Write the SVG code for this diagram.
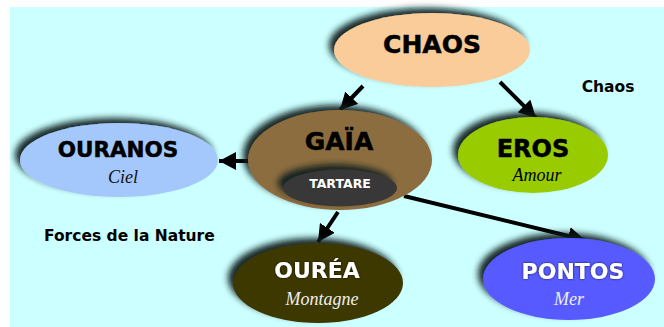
<svg xmlns="http://www.w3.org/2000/svg" width="664" height="327" viewBox="0 0 664 327">
<defs>
<filter id="sh" x="-20%" y="-30%" width="140%" height="160%">
<feDropShadow dx="-5" dy="-5" stdDeviation="3" flood-color="#0f1f1f" flood-opacity="0.95"/>
</filter>
<filter id="tsh" x="-10%" y="-30%" width="120%" height="160%">
<feDropShadow dx="0" dy="0" stdDeviation="0.8" flood-color="#000" flood-opacity="0.8"/>
</filter>
<marker id="ah" markerUnits="userSpaceOnUse" markerWidth="18" markerHeight="18" refX="17" refY="9" orient="auto">
<path d="M0,0 L17,9 L0,18 z" fill="#000"/>
</marker>
</defs>
<style>
.t{font-family:"DejaVu Sans",Verdana,sans-serif;font-weight:bold;text-anchor:middle}
.k{stroke:#000;stroke-width:0.5}
.s{font-family:"Liberation Serif","DejaVu Serif",serif;font-style:italic;text-anchor:middle;font-size:18px}
.l{font-family:"DejaVu Sans",Verdana,sans-serif;font-weight:bold;font-size:15.5px;fill:#000}
.c{fill:none;stroke:#000;stroke-width:4;marker-end:url(#ah)}
</style>
<rect x="10" y="7" width="654" height="320" fill="#ccffff"/>
<g id="connectors">
<line class="c" x1="363" y1="86" x2="340" y2="110"/>
<line class="c" x1="500" y1="82" x2="536" y2="118"/>
<line class="c" x1="250" y1="161" x2="219" y2="161"/>
<line class="c" x1="338" y1="212" x2="318" y2="242"/>
<line class="c" x1="404" y1="196" x2="585" y2="240"/>
</g>
<g id="chaos">
<ellipse cx="432" cy="50" rx="98" ry="37" fill="#f9cc9a" filter="url(#sh)"/>
<text class="t k" x="432" y="53" font-size="25" fill="#000">CHAOS</text>
</g>
<g id="ouranos">
<ellipse cx="119" cy="160" rx="99" ry="37" fill="#a4c8fc" filter="url(#sh)"/>
<text class="t k" x="118" y="157" font-size="21.5" fill="#000">OURANOS</text>
<text class="s" x="123" y="183" fill="#111">Ciel</text>
</g>
<g id="gaia">
<ellipse cx="340" cy="160" rx="92" ry="50" fill="#8c6d3f" filter="url(#sh)"/>
<text class="t k" x="339" y="150" font-size="25" fill="#000">GAÏA</text>
</g>
<g id="tartare">
<ellipse cx="340" cy="188" rx="57" ry="18.5" fill="#383838" filter="url(#sh)"/>
<text class="t" x="340" y="188" font-size="12.5" fill="#fff">TARTARE</text>
</g>
<g id="eros">
<ellipse cx="533" cy="155" rx="75" ry="38" fill="#99cc00" filter="url(#sh)"/>
<text class="t k" x="533" y="157" font-size="24" fill="#000">EROS</text>
<text class="s" x="537" y="181" fill="#000">Amour</text>
</g>
<g id="ourea">
<ellipse cx="318" cy="283" rx="85" ry="40" fill="#3c3800" filter="url(#sh)"/>
<text class="t" x="317" y="278" font-size="22" fill="#fff" filter="url(#tsh)">OURÉA</text>
<text class="s" x="322" y="305" fill="#eee">Montagne</text>
</g>
<g id="pontos">
<ellipse cx="569" cy="279" rx="86" ry="41" fill="#575aff" filter="url(#sh)"/>
<text class="t" x="573" y="279" font-size="22" fill="#fff" filter="url(#tsh)">PONTOS</text>
<text class="s" x="569" y="305" fill="#eee">Mer</text>
</g>
<text class="l" x="608" y="92" text-anchor="middle">Chaos</text>
<text class="l" x="44" y="241">Forces de la Nature</text>
</svg>
